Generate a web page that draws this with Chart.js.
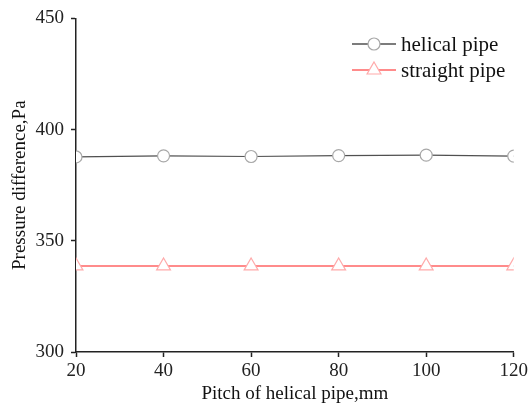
<!DOCTYPE html>
<html>
<head>
<meta charset="utf-8">
<script src="https://cdn.jsdelivr.net/npm/chart.js@4"></script>
<style>
  html, body { margin: 0; padding: 0; background: #fff; }
  #wrap { width: 531px; height: 405px; }
</style>
</head>
<body>
<div id="wrap"><canvas id="chart" width="531" height="405"></canvas></div>
<script>
// donnees
const pitches = [20, 40, 60, 80, 100, 120];
const helicalPipe = [387.7, 388.2, 387.9, 388.3, 388.5, 388.1];
const straightPipe = [338.7, 338.7, 338.7, 338.7, 338.7, 338.7];
const yTicks = [300, 350, 400, 450];

const serif = "'Liberation Serif', 'DejaVu Serif', serif";
const grey = '#505050';
const greyMark = '#a8a8a8';
const red = '#ff6464';
const redMark = '#ffaaaa';

// legende dessinee a la main (ligne + marqueur comme dans la figure)
const legendPlugin = {
    id: 'legendInside',
    afterDraw(chart) {
        const ctx = chart.ctx;
        const items = [
            { label: 'helical pipe', line: grey, mark: greyMark, style: 'circle', r: 6, y: 44 },
            { label: 'straight pipe', line: red, mark: redMark, style: 'triangle', r: 8, y: 70 }
        ];
        ctx.save();
        items.forEach(it => {
            ctx.strokeStyle = it.line;
            ctx.lineWidth = 1.3;
            ctx.beginPath();
            ctx.moveTo(352, it.y);
            ctx.lineTo(396, it.y);
            ctx.stroke();
            ctx.fillStyle = '#fff';
            ctx.strokeStyle = it.mark;
            ctx.lineWidth = 1.2;
            Chart.helpers.drawPoint(ctx, { pointStyle: it.style, radius: it.r, borderWidth: 1.2, rotation: 0 }, 374, it.y);
            ctx.fillStyle = '#111';
            ctx.font = '21px ' + serif;
            ctx.textBaseline = 'middle';
            ctx.fillText(it.label, 401, it.y + 1);
        });
        ctx.restore();
    }
};

new Chart(document.getElementById('chart'), {
    type: 'line',
    data: {
        labels: pitches,
        datasets: [{
            label: 'helical pipe',
            data: helicalPipe,
            borderColor: grey,
            borderWidth: 1.2,
            pointStyle: 'circle',
            pointRadius: 6,
            pointBorderWidth: 1.2,
            pointBorderColor: greyMark,
            pointBackgroundColor: '#fff',
            tension: 0,
            clip: 0
        }, {
            label: 'straight pipe',
            data: straightPipe,
            borderColor: red,
            borderWidth: 1.5,
            pointStyle: 'triangle',
            pointRadius: 8,
            pointBorderWidth: 1.2,
            pointBorderColor: redMark,
            pointBackgroundColor: '#fff',
            tension: 0,
            clip: 0
        }]
    },
    options: {
        responsive: false,
        animation: false,
        layout: { padding: { top: 16, right: 15, left: 0, bottom: 0 } },
        plugins: {
            legend: { display: false },
            tooltip: { enabled: false }
        },
        scales: {
            x: {
                type: 'linear',
                min: 20,
                max: 120,
                afterFit: s => { s.height = 53; },
                afterBuildTicks: s => { s.ticks = pitches.map(v => ({ value: v })); },
                border: { display: true, color: '#222', width: 1.5 },
                grid: { drawOnChartArea: false, drawTicks: true, tickLength: 5, color: '#222', tickWidth: 1.5 },
                ticks: { color: '#222', padding: 3, font: { family: serif, size: 19 } },
                title: {
                    display: true,
                    text: 'Pitch of helical pipe,mm',
                    color: '#111',
                    padding: { top: 0, bottom: 0 },
                    font: { family: serif, size: 19 }
                }
            },
            y: {
                min: 300,
                max: 450,
                afterFit: s => { s.width = 76; },
                afterBuildTicks: s => { s.ticks = yTicks.map(v => ({ value: v })); },
                border: { display: true, color: '#222', width: 1.5 },
                grid: { drawOnChartArea: false, drawTicks: true, tickLength: 5, color: '#222', tickWidth: 1.5 },
                ticks: { color: '#222', padding: 7, font: { family: serif, size: 19 } },
                title: {
                    display: true,
                    text: 'Pressure difference,Pa',
                    color: '#111',
                    padding: { top: 9, bottom: 9 },
                    font: { family: serif, size: 19 }
                }
            }
        }
    },
    plugins: [legendPlugin]
});
</script>
</body>
</html>
